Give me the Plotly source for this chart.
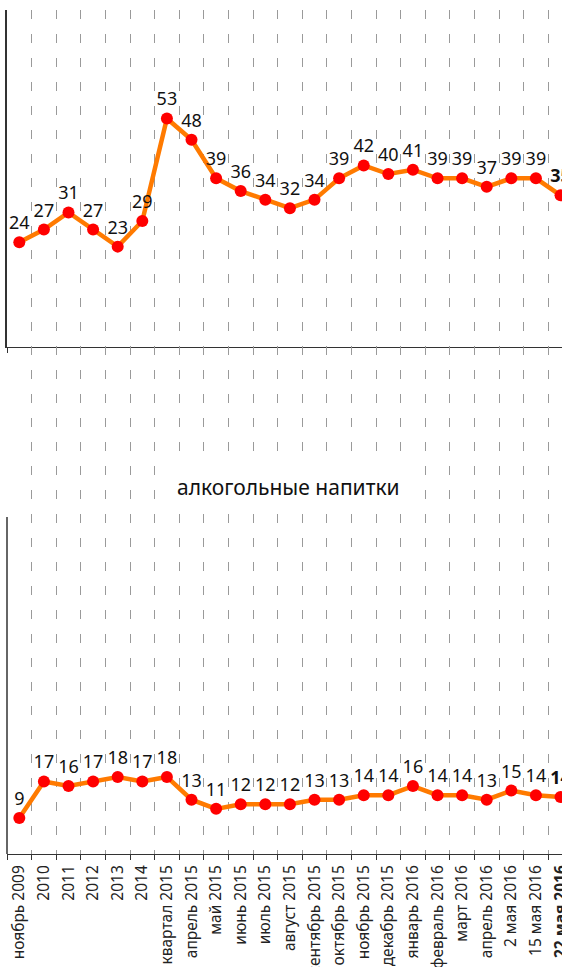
import plotly.graph_objects as go

W, H = 562, 967

categories = [
    "ноябрь 2009", "2010", "2011", "2012", "2013", "2014", "I квартал 2015",
    "апрель 2015", "май 2015", "июнь 2015", "июль 2015", "август 2015",
    "сентябрь 2015", "октябрь 2015", "ноябрь 2015", "декабрь 2015",
    "январь 2016", "февраль 2016", "март 2016", "апрель 2016",
    "2 мая 2016", "15 мая 2016", "22 мая 2016",
]
top_values = [24, 27, 31, 27, 23, 29, 53, 48, 39, 36, 34, 32, 34, 39, 42, 40,
              41, 39, 39, 37, 39, 39, 35]
alcohol_values = [9, 17, 16, 17, 18, 17, 18, 13, 11, 12, 12, 12, 13, 13, 14, 14,
                  16, 14, 14, 13, 15, 14, 13.6]
alcohol_title = "алкогольные напитки"

LINE_COLOR = "#ff7a00"
MARKER_COLOR = "#ff0000"
GRID_COLOR = "#9a9a9a"
AXIS_COLOR = "#333333"
FONT = "Noto Sans"


def frac(px):
    return 1 - px / H


def labels(values):
    out = [f"{v:.0f}" for v in values]
    out[-1] = f"<b>{out[-1]}</b>"
    return out


def series(values, xa, ya):
    return go.Scatter(
        x=categories,
        y=values,
        xaxis=xa,
        yaxis=ya,
        mode="lines+markers+text",
        line=dict(color=LINE_COLOR, width=4.5),
        marker=dict(color=MARKER_COLOR, size=12),
        text=labels(values),
        textposition="top center",
        textfont=dict(size=18, color="#111111", family=FONT),
        cliponaxis=False,
        showlegend=False,
    )


fig = go.Figure()
fig.add_trace(series(top_values, "x", "y"))
fig.add_trace(series(alcohol_values, "x2", "y2"))

xaxis_common = dict(
    type="category",
    categoryorder="array",
    categoryarray=categories,
    range=[-0.5, 22.06],
    domain=[7 / W, 1],
    tickson="boundaries",
    ticks="outside",
    ticklen=5,
    tickcolor=AXIS_COLOR,
    showline=True,
    linecolor=AXIS_COLOR,
    linewidth=1,
    showgrid=True,
    gridcolor=GRID_COLOR,
    gridwidth=1,
    griddash="9px,15px",
    zeroline=False,
    automargin=False,
    fixedrange=True,
)

yaxis_common = dict(
    showgrid=False,
    zeroline=False,
    showticklabels=False,
    automargin=False,
    fixedrange=True,
)

ticktext = categories[:-1] + [f"<b>{categories[-1]}</b>"]

fig.update_layout(
    width=W,
    height=H,
    margin=dict(l=0, r=0, t=0, b=0, pad=0),
    paper_bgcolor="white",
    plot_bgcolor="rgba(0,0,0,0)",
    font=dict(family=FONT, color="#222222"),
    xaxis=dict(**xaxis_common, anchor="y", showticklabels=False),
    yaxis=dict(
        **yaxis_common,
        domain=[frac(347), frac(10)],
        range=[-0.5, 78.4],
        showline=True,
        linecolor=AXIS_COLOR,
        linewidth=1.5,
        anchor="x",
    ),
    xaxis2=dict(
        **xaxis_common,
        anchor="y2",
        showticklabels=True,
        tickangle=-90,
        tickmode="array",
        tickvals=categories,
        ticktext=ticktext,
        ticklabelstandoff=4,
        tickfont=dict(size=15.5, color="#222222", family=FONT),
    ),
    yaxis2=dict(
        **yaxis_common,
        domain=[frac(854), frac(346)],
        range=[1.1, 112.5],
        showline=False,
        anchor="x2",
    ),
)

# left axis line of the lower chart only covers its own plot height
fig.add_shape(
    type="line",
    xref="x2 domain", yref="y2",
    x0=0, x1=0, y0=1.1, y1=75,
    line=dict(color=AXIS_COLOR, width=1.5),
)

fig.add_annotation(
    text=alcohol_title,
    xref="paper", yref="paper",
    x=288 / W, y=frac(487),
    xanchor="center", yanchor="middle",
    showarrow=False,
    font=dict(size=21, color="#111111", family=FONT),
    bgcolor="white",
    borderpad=8,
)

# drop the default page margin so the figure sits at the window's corner
fig.write_html(
    "out.html",
    config={"displayModeBar": False},
    post_script="document.body.style.margin='0';",
)
